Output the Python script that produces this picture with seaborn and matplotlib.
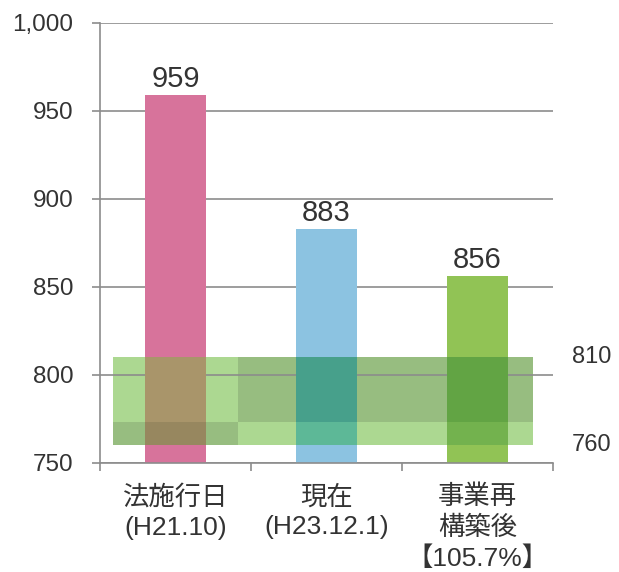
import matplotlib
matplotlib.use("Agg")
import matplotlib.pyplot as plt
from matplotlib.patches import Rectangle
from matplotlib.ticker import FuncFormatter
import matplotlib.transforms as mtransforms
import seaborn as sns
import pandas as pd

# ---- data ----
categories = ["法施行日\n(H21.10)", "現在\n(H23.12.1)", "事業再\n構築後\n【105.7%】"]
values = [959, 883, 856]
band_low = 760
band_high = 810
band_mid = 773
band_labels = ["810", "760"]
y_ticks = [750, 800, 850, 900, 950, 1000]

# ---- styles ----
bar_colors = ["#d7739b", "#8cc3e1", "#91c355"]
overlap_light = ["#a9956a", "#5db897", "#73b24e"]
overlap_dark = ["#97875f", "#47a08b", "#62a444"]
band_light = "#acd891"
band_dark = "#97bd80"
text_color = "#333333"
axis_gray = "#8c8c8c"

sns.set_theme(style="white")
plt.rcParams["font.family"] = ["Liberation Sans", "Noto Sans CJK JP"]

fig = plt.figure(figsize=(6.19, 5.72), dpi=100)
ax = fig.add_axes([100 / 619, 1 - 462.5 / 572, 453 / 619, (462.5 - 23) / 572])

df = pd.DataFrame({"cat": categories, "val": values})
sns.barplot(data=df, x="cat", y="val", hue="cat", palette=bar_colors,
            legend=False, width=0.4, ax=ax, saturation=1, zorder=1,
            edgecolor="none", linewidth=0)

ax.set_xlim(-0.5, 2.5)
ax.set_ylim(750, 1000)

# band segments: (x0, x1, y0, y1, shade)
bx0, bsplit, bx1 = -0.416, 0.417, 2.368
segments = [
    (bx0, bsplit, band_low, band_mid, "dark"),
    (bx0, bsplit, band_mid, band_high, "light"),
    (bsplit, bx1, band_low, band_mid, "light"),
    (bsplit, bx1, band_mid, band_high, "dark"),
]
for x0, x1, y0, y1, shade in segments:
    ax.add_patch(Rectangle((x0, y0), x1 - x0, y1 - y0,
                           facecolor=band_dark if shade == "dark" else band_light,
                           edgecolor="none", linewidth=0, zorder=0.2))

bars = [p for p in ax.patches if p.get_zorder() == 1][:3]
for i, p in enumerate(bars):
    px0 = p.get_x()
    px1 = px0 + p.get_width()
    for x0, x1, y0, y1, shade in segments:
        lo, hi = max(px0, x0), min(px1, x1)
        if hi > lo:
            col = overlap_dark[i] if shade == "dark" else overlap_light[i]
            ax.add_patch(Rectangle((lo, y0), hi - lo, y1 - y0,
                                   facecolor=col, edgecolor="none",
                                   linewidth=0, zorder=1.5))
    ax.text(px0 + p.get_width() / 2, values[i] + 1.0, f"{values[i]}",
            ha="center", va="bottom", fontsize=21, color=text_color, zorder=3)

# grid & axes
ax.set_axisbelow(True)
ax.set_yticks(y_ticks)
ax.yaxis.set_major_formatter(FuncFormatter(lambda v, _: f"{v:,.0f}"))
ax.grid(axis="y", color=axis_gray, linewidth=1.2)
ax.grid(axis="x", visible=False)
for s in ["top", "right"]:
    ax.spines[s].set_visible(False)
for s in ["left", "bottom"]:
    ax.spines[s].set_color(axis_gray)
    ax.spines[s].set_linewidth(1.2)

ax.tick_params(axis="y", which="major", length=6, width=1.2, color=axis_gray,
               labelsize=17.5, labelcolor=text_color, pad=13, left=True, direction="out")
ax.set_xticks([-0.5, 0.5, 1.5, 2.5], minor=True)
ax.tick_params(axis="x", which="minor", length=6, width=1.2, color=axis_gray,
               bottom=True, direction="out")
ax.tick_params(axis="x", which="major", length=0, labelsize=19,
               labelcolor=text_color, pad=16)
for lbl in ax.get_xticklabels():
    lbl.set_linespacing(1.32)
ax.set_xlabel("")
ax.set_ylabel("")

trans = mtransforms.blended_transform_factory(ax.transAxes, ax.transData)
for txt, yv in zip(band_labels, [band_high, band_low]):
    ax.text(1.042, yv, txt, transform=trans, ha="left", va="center",
            fontsize=17, color=text_color, clip_on=False)

fig.savefig("out.png", dpi=100, facecolor="white")
